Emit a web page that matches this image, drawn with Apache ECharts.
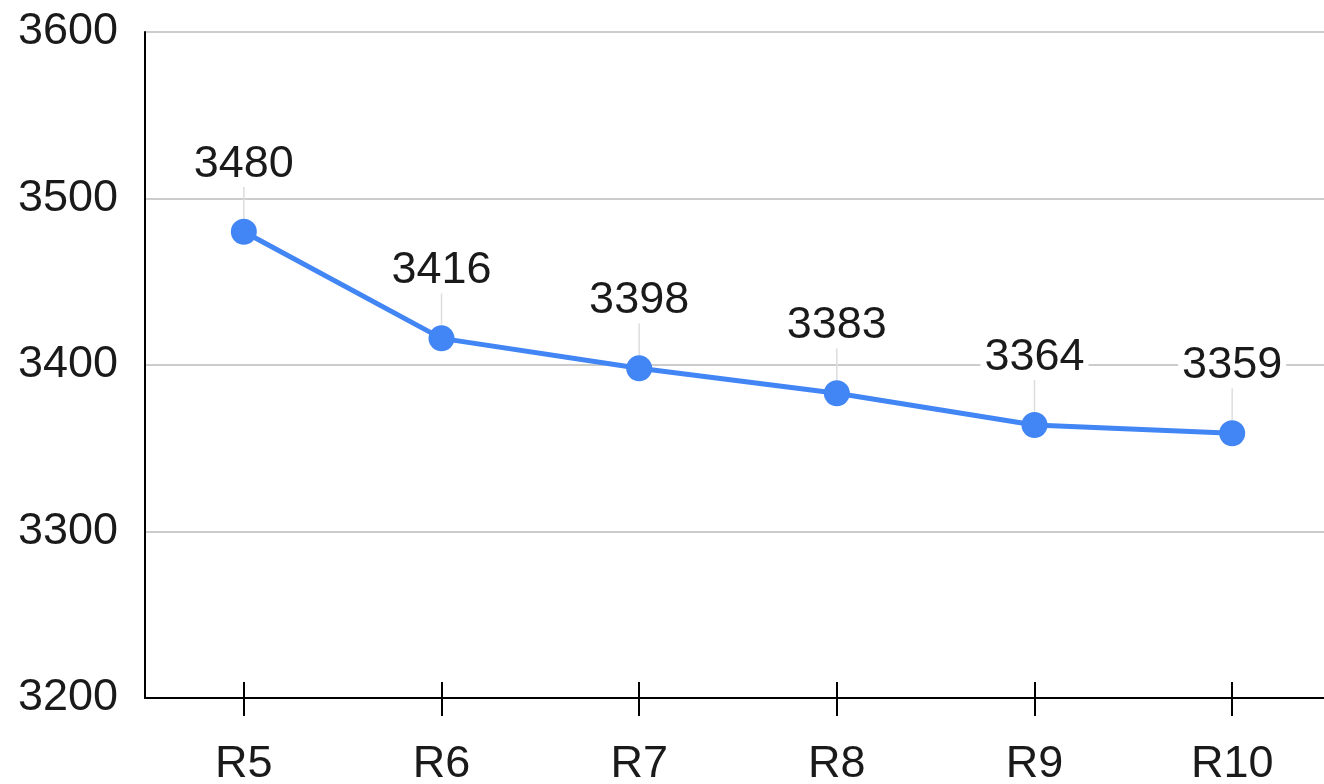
<!DOCTYPE html>
<html>
<head>
<meta charset="utf-8">
<script src="https://cdn.jsdelivr.net/npm/echarts@6/dist/echarts.min.js"></script>
<style>
html,body{margin:0;padding:0;background:#fff;}
#c{width:1324px;height:784px;}
</style>
</head>
<body>
<div id="c"></div>
<script>
const categories = ['R5', 'R6', 'R7', 'R8', 'R9', 'R10'];
const values = [3480, 3416, 3398, 3383, 3364, 3359];
const yTicks = [3200, 3300, 3400, 3500, 3600];

const chart = echarts.init(document.getElementById('c'), null, {renderer: 'canvas'});
const font = '"Liberation Sans", Arial, sans-serif';
chart.setOption({
  animation: false,
  backgroundColor: '#fff',
  grid: {left: 145, width: 1186, top: 32, bottom: 86, containLabel: false, outerBoundsMode: 'none'},
  xAxis: [{
    type: 'category',
    data: categories,
    boundaryGap: true,
    axisLine: {show: true, lineStyle: {color: '#000', width: 2}},
    axisTick: {show: true, alignWithLabel: true, length: 18, lineStyle: {color: '#000', width: 2}},
    axisLabel: {fontSize: 45, color: '#1a1a1a', fontFamily: font, margin: 44},
    splitLine: {show: false}
  }, {
    type: 'category',
    data: categories,
    position: 'bottom',
    boundaryGap: true,
    axisLine: {show: false},
    axisTick: {show: true, inside: true, alignWithLabel: true, length: 16, lineStyle: {color: '#000', width: 2}},
    axisLabel: {show: false},
    splitLine: {show: false}
  }],
  yAxis: {
    type: 'value',
    min: yTicks[0],
    max: yTicks[yTicks.length - 1],
    interval: 100,
    axisLine: {show: true, lineStyle: {color: '#000', width: 2}},
    axisTick: {show: false},
    axisLabel: {fontSize: 45, color: '#1a1a1a', fontFamily: font, margin: 27, formatter: v => String(v)},
    splitLine: {show: true, lineStyle: {color: '#cccccc', width: 2}}
  },
  series: [{
    type: 'line',
    xAxisIndex: 0,
    data: values,
    symbol: 'circle',
    symbolSize: 26,
    itemStyle: {color: '#4285f4'},
    lineStyle: {color: '#4285f4', width: 5},
    label: {
      show: true,
      position: 'top',
      distance: 5,
      fontSize: 45,
      color: '#1a1a1a',
      fontFamily: font,
      backgroundColor: '#fff',
      padding: [0, 4]
    },
    labelLayout: {dy: -27},
    labelLine: {show: true, lineStyle: {color: '#dddddd', width: 1.5}}
  }]
});
</script>
</body>
</html>
